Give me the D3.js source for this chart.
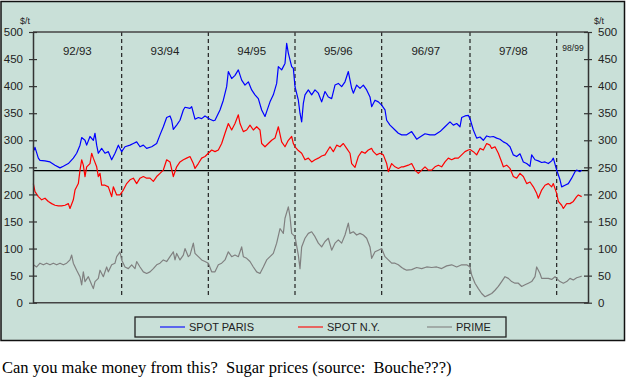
<!DOCTYPE html>
<html>
<head>
<meta charset="utf-8">
<style>
  body { margin: 0; background: #fff; }
  svg { display: block; }
  text { font-family: Arial, "Liberation Sans", sans-serif; fill: #222; }
  .caption { font-family: "Liberation Serif", "Times New Roman", serif; font-size: 16.5px; fill: #000; white-space: pre; }
</style>
<script src="https://cdn.jsdelivr.net/npm/d3@7"></script>
</head>
<body>
<svg id="chart" width="631" height="384"></svg>
<script>
// weeks since start of the 92/93 season, price in $/t
let spotParis = [[-1,279],[0,287],[2,267],[3,263],[6,262],[9,260],[12,254],[15,249],[17,252],[20,257],[23,267],[25,276],[27,291],[28,305],[30,300],[31,291],[33,307],[35,300],[36,313],[37,291],[38,276],[40,285],[42,276],[44,279],[46,264],[48,276],[50,291],[52,279],[54,288],[57,291],[59,294],[61,297],[63,288],[65,291],[67,285],[70,288],[73,294],[75,310],[77,325],[79,342],[81,345],[82,337],[83,320],[85,328],[87,337],[89,356],[90,361],[93,359],[94,362],[96,339],[98,342],[100,340],[102,345],[105,339],[107,336],[108,337],[111,356],[113,374],[115,399],[116,427],[118,414],[120,420],[122,430],[124,411],[126,402],[128,408],[130,393],[132,384],[134,377],[136,356],[138,344],[139,353],[141,371],[143,384],[145,405],[146,436],[148,430],[150,442],[151,479],[152,461],[154,436],[155,433],[156,399],[158,374],[159,350],[160,334],[161,368],[162,384],[164,393],[166,384],[168,393],[170,387],[172,371],[174,390],[176,380],[178,377],[180,402],[182,405],[184,399],[186,408],[188,427],[190,396],[191,387],[193,402],[195,396],[197,402],[199,393],[201,380],[202,362],[204,374],[206,371],[208,365],[210,356],[211,337],[213,328],[216,319],[218,313],[220,310],[223,310],[226,316],[229,302],[231,306],[234,312],[237,310],[240,310],[243,316],[246,325],[249,334],[251,328],[253,331],[255,325],[256,342],[258,345],[260,346],[261,340],[263,319],[265,304],[267,306],[269,300],[271,308],[273,306],[275,307],[277,304],[279,302],[281,297],[283,294],[285,288],[287,273],[289,270],[291,275],[293,260],[295,257],[297,252],[298,273],[300,264],[302,262],[304,259],[306,260],[308,257],[310,262],[311,267],[313,245],[315,227],[316,214],[318,217],[320,220],[322,230],[324,242],[325,245],[327,242],[328,245]];

let spotNY = [[-1,220],[0,205],[2,196],[4,190],[6,193],[8,187],[10,183],[12,180],[14,179],[16,179],[18,180],[20,183],[21,174],[23,190],[24,208],[26,220],[27,245],[28,264],[29,254],[30,233],[31,251],[33,257],[34,276],[35,267],[37,251],[38,233],[39,239],[40,217],[42,217],[44,214],[46,196],[47,214],[49,199],[51,199],[53,208],[55,220],[57,227],[59,230],[61,220],[63,230],[65,233],[67,230],[69,230],[71,224],[73,233],[75,239],[77,245],[79,264],[81,260],[83,233],[85,251],[87,260],[89,264],[91,267],[93,270],[95,257],[96,248],[98,257],[100,267],[102,270],[104,276],[106,282],[108,279],[110,282],[112,294],[114,313],[116,331],[118,319],[120,331],[122,347],[123,331],[125,316],[127,319],[129,328],[131,319],[133,325],[135,319],[136,294],[138,288],[140,294],[142,300],[144,304],[146,325],[148,297],[150,288],[152,300],[154,307],[155,294],[156,288],[158,281],[160,276],[162,264],[164,267],[166,260],[168,264],[170,267],[172,271],[174,273],[177,288],[179,279],[181,291],[183,288],[185,294],[187,285],[189,276],[190,257],[192,250],[194,270],[196,279],[198,276],[200,282],[202,285],[203,279],[205,273],[207,276],[209,273],[211,257],[212,242],[214,257],[216,251],[218,248],[220,251],[221,251],[224,254],[226,257],[228,245],[230,239],[232,245],[234,251],[236,245],[238,245],[240,251],[242,254],[244,251],[246,260],[248,267],[250,264],[252,267],[254,267],[256,273],[258,279],[260,282],[261,283],[263,279],[265,273],[267,285],[269,282],[271,294],[273,291],[274,285],[276,288],[278,276],[280,260],[281,251],[283,254],[285,248],[287,233],[289,230],[291,239],[293,233],[295,220],[297,223],[299,214],[301,202],[302,193],[304,208],[306,217],[308,220],[310,214],[311,220],[313,202],[314,187],[316,180],[317,174],[319,183],[321,183],[323,187],[325,196],[326,199],[328,196]];

let prime = [[-1,70],[1,66],[3,73],[5,70],[7,73],[9,70],[11,73],[13,70],[15,73],[17,70],[19,73],[21,79],[22,88],[23,73],[25,60],[27,48],[28,33],[29,57],[30,39],[32,48],[34,33],[35,26],[36,39],[38,45],[39,60],[41,48],[43,66],[44,57],[46,70],[48,73],[49,85],[51,94],[52,79],[54,66],[56,63],[58,70],[60,63],[61,76],[63,66],[65,57],[67,54],[69,57],[71,63],[73,70],[75,73],[77,79],[79,76],[81,85],[83,94],[84,79],[85,91],[87,79],[89,88],[90,100],[92,85],[93,88],[95,110],[96,91],[98,85],[100,79],[102,76],[104,73],[106,57],[108,57],[110,70],[112,73],[114,79],[116,94],[118,85],[120,88],[122,85],[124,103],[125,85],[127,82],[129,76],[131,66],[133,57],[135,54],[137,66],[139,79],[141,85],[143,91],[145,110],[147,137],[149,128],[150,156],[152,177],[153,159],[154,128],[156,122],[158,88],[159,63],[160,103],[162,119],[164,128],[166,131],[168,122],[170,110],[172,103],[174,113],[176,119],[178,97],[180,110],[182,116],[184,110],[186,125],[188,147],[189,128],[191,131],[193,125],[195,128],[197,125],[199,119],[201,103],[202,82],[204,94],[206,97],[208,100],[210,85],[212,79],[214,73],[216,73],[218,70],[220,65],[221,63],[223,60],[226,61],[229,65],[232,63],[235,66],[238,65],[241,66],[244,63],[247,68],[250,70],[253,66],[256,70],[259,70],[261,66],[262,51],[264,36],[266,26],[268,17],[270,11],[272,14],[274,17],[276,23],[278,30],[280,39],[282,48],[284,45],[286,39],[288,36],[290,36],[292,30],[294,33],[296,36],[298,39],[300,48],[301,66],[303,54],[304,45],[306,45],[308,45],[310,43],[312,48],[313,45],[315,39],[317,36],[319,39],[321,45],[323,42],[325,46],[327,48],[328,49]];

let seasons = ["92/93", "93/94", "94/95", "95/96", "96/97", "97/98", "98/99"];
let seasonStarts = [52, 104, 156, 208, 261, 313];
let yTicks = [0, 50, 100, 150, 200, 250, 300, 350, 400, 450, 500];
let refPrice = 244;
let legendNames = ["SPOT PARIS", "SPOT N.Y.", "PRIME"];
let seriesColors = ["#0000ff", "#ff0000", "#808080"];

const svg = d3.select("#chart");
const bg = "#c9e0d8";

// outer box
svg.append("rect").attr("x", 1).attr("y", 1.5).attr("width", 623.5).attr("height", 339)
  .attr("fill", bg).attr("stroke", "#111").attr("stroke-width", 1.5);

const x = d3.scaleLinear().domain([-1.2, 331.8]).range([33, 588]);
const y = d3.scaleLinear().domain([0, 500]).range([302.7, 32]);

// year dividers
svg.selectAll("line.div").data(seasonStarts).enter().append("line")
  .attr("x1", d => x(d)).attr("x2", d => x(d))
  .attr("y1", 32).attr("y2", 298)
  .attr("stroke", "#222").attr("stroke-width", 1.2).attr("stroke-dasharray", "4,3");

// season labels
let bounds = [x.domain()[0]].concat(seasonStarts).concat([x.domain()[1]]);
svg.selectAll("text.season").data(seasons).enter().append("text")
  .attr("x", (d, i) => i < 6 ? (x(bounds[i]) + x(bounds[i + 1])) / 2 : 573)
  .attr("y", (d, i) => i < 6 ? 55 : 51)
  .attr("text-anchor", "middle")
  .style("font-size", (d, i) => i < 6 ? "11.5px" : "8.5px")
  .text(d => d);

// reference line
svg.append("line").attr("x1", 33).attr("x2", 588)
  .attr("y1", y(refPrice)).attr("y2", y(refPrice))
  .attr("stroke", "#000").attr("stroke-width", 1.2);

// series
let line = d3.line().x(d => x(d[0])).y(d => y(d[1]));
[prime, spotNY, spotParis].forEach((s, i) => {
  svg.append("path").datum(s)
    .attr("d", line)
    .attr("fill", "none")
    .attr("stroke", seriesColors[2 - i])
    .attr("stroke-width", 1.2)
    .attr("stroke-linejoin", "round");
});

// frame
svg.append("line").attr("x1", 33).attr("x2", 588).attr("y1", 32).attr("y2", 32)
  .attr("stroke", "#444").attr("stroke-width", 1.5);
svg.append("line").attr("x1", 33).attr("x2", 588).attr("y1", 302.7).attr("y2", 302.7)
  .attr("stroke", "#444").attr("stroke-width", 1.5);

// axes
let leftAxis = d3.axisLeft(y).tickValues(yTicks).tickSizeInner(4).tickSizeOuter(0).tickPadding(6);
let rightAxis = d3.axisRight(y).tickValues(yTicks).tickSizeInner(4).tickSizeOuter(0).tickPadding(6);
let gl = svg.append("g").attr("transform", "translate(33,0)").call(leftAxis);
let gr = svg.append("g").attr("transform", "translate(588,0)").call(rightAxis);
[gl, gr].forEach(g => {
  g.select(".domain").attr("stroke", "#333").attr("stroke-width", 1.5);
  g.selectAll(".tick line").attr("stroke", "#333").attr("stroke-width", 1.2);
  g.selectAll(".tick text").style("font-size", "11.5px").attr("fill", "#222")
    .style("font-family", "Arial, 'Liberation Sans', sans-serif");
});
gl.selectAll(".tick line").attr("x1", 4);
gr.selectAll(".tick line").attr("x1", -4);

svg.append("text").attr("x", 25).attr("y", 24).attr("text-anchor", "middle")
  .style("font-size", "9px").text("$/t");
svg.append("text").attr("x", 599).attr("y", 24).attr("text-anchor", "middle")
  .style("font-size", "9px").text("$/t");

// legend
svg.append("rect").attr("x", 135).attr("y", 317).attr("width", 371).attr("height", 20)
  .attr("fill", bg).attr("stroke", "#222").attr("stroke-width", 1.3);
let legendX = [160, 298, 427];
legendNames.forEach((n, i) => {
  svg.append("line").attr("x1", legendX[i]).attr("x2", legendX[i] + 25)
    .attr("y1", 327).attr("y2", 327)
    .attr("stroke", seriesColors[i]).attr("stroke-width", 1.1);
  svg.append("text").attr("x", legendX[i] + 29).attr("y", 331)
    .style("font-size", "11px").text(n);
});

// caption
svg.append("text").attr("class", "caption").attr("x", 2).attr("y", 373)
  .text("Can you make money from this?  Sugar prices (source:  Bouche???)");
</script>
</body>
</html>
